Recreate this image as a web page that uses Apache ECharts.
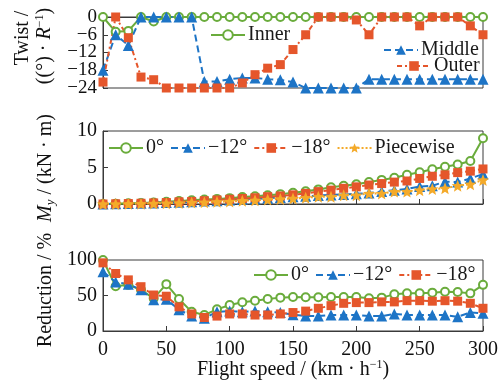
<!DOCTYPE html>
<html>
<head>
<meta charset="utf-8">
<script src="https://cdn.jsdelivr.net/npm/echarts@6/dist/echarts.min.js"></script>
<style>
  html, body { margin: 0; padding: 0; background: #fff; }
  #chart { width: 504px; height: 381px; }
</style>
</head>
<body>
<div id="chart"></div>
<script>
// Flight speed (km/h)
const speeds = [0, 10, 20, 30, 40, 50, 60, 70, 80, 90, 100, 110, 120, 130, 140, 150,
  160, 170, 180, 190, 200, 210, 220, 230, 240, 250, 260, 270, 280, 290, 300];

// Twist per blade section, (°)·R^-1
const twistInner = [0, -5, -4.7, 0, -1.5, 0, 0, 0, 0, 0, 0, 0, 0, 0, 0, 0,
  0, 0, 0, 0, 0, 0, 0, 0, 0, 0, 0, 0, 0, 0, 0];
const twistMiddle = [-18, -6, -9.6, 0, 0, 0, 0, 0, -21.8, -21.8, -21, -20.6, -20.6, -21, -21.2, -22,
  -24, -24, -24, -24, -24, -21, -21, -21, -21, -21, -21, -21, -21, -21, -21];
const twistOuter = [-22, 0, -7, -20.3, -21.2, -24, -24, -24, -24, -24, -24, -22.3, -19.5, -17.3, -16.1, -11,
  -6, 0, 0, 0, -1, -6, 0, 0, 0, -3, 0, 0, 0, -3, -6];

// Flapping moment My, kN·m
const moment0 = [0, 0.05, 0.1, 0.15, 0.2, 0.3, 0.4, 0.5, 0.6, 0.7, 0.8, 0.95, 1.05, 1.2, 1.35, 1.55,
  1.75, 2.0, 2.3, 2.5, 2.7, 3.0, 3.3, 3.6, 4.0, 4.35, 4.75, 5.1, 5.4, 5.9, 9.0];
const moment12 = [0, 0.03, 0.06, 0.1, 0.15, 0.2, 0.25, 0.3, 0.4, 0.45, 0.55, 0.65, 0.7, 0.8, 0.9, 1.0,
  1.05, 1.15, 1.25, 1.3, 1.4, 1.5, 1.7, 1.9, 2.05, 2.4, 2.5, 3.05, 3.0, 3.5, 4.1];
const moment18 = [0, 0.03, 0.06, 0.1, 0.15, 0.2, 0.3, 0.35, 0.45, 0.55, 0.65, 0.75, 0.85, 1.0, 1.1, 1.25,
  1.45, 1.7, 1.9, 2.15, 2.35, 2.6, 2.8, 3.0, 3.15, 3.5, 3.8, 4.0, 4.3, 4.5, 4.8];
const momentPiecewise = [0, 0, 0.02, 0.05, 0.08, 0.1, 0.15, 0.2, 0.25, 0.3, 0.35, 0.45, 0.5, 0.6, 0.7, 0.75,
  0.85, 1.0, 1.0, 1.2, 1.2, 1.45, 1.45, 1.7, 1.7, 1.9, 2.05, 2.15, 2.5, 2.7, 3.3];

// Reduction, %
const reduction0 = [100, 63, 65, 58, 46, 66, 45, 27, 22.5, 30.5, 36.6, 40.4, 42.7, 45, 47, 48,
  47.5, 47.5, 48, 48, 48, 46, 47, 51.6, 53, 53, 54, 55.4, 55, 53, 65];
const reduction12 = [83.5, 69, 66, 58, 44, 44.6, 30, 21, 18, 27, 28, 27, 28, 27, 26, 23,
  21, 21, 22.5, 22.5, 22.5, 21, 21, 24, 22.5, 22.5, 22.5, 22.5, 20, 26, 25];
const reduction18 = [96, 81, 72, 62.4, 50.7, 49, 34, 24, 19, 21, 24, 24, 22.5, 22.5, 24, 26,
  28, 32, 35.7, 39, 40, 40, 41, 41, 42.7, 42.7, 42, 42.7, 42, 39, 32];

// Tick values
const xTicks = [0, 50, 100, 150, 200, 250, 300];
const twistTicks = [0, -6, -12, -18, -24];

const GREEN = '#6aac3c';
const BLUE = '#1d74c6';
const ORANGE = '#e5562b';
const GOLD = '#f4aa2a';
const FONT = 'Liberation Serif';
const AXIS = '#3a3a3a';
const STAR = 'path://M0,-10 L2.6,-3.6 9.5,-3.1 4.2,1.4 5.9,8.1 0,4.4 -5.9,8.1 -4.2,1.4 -9.5,-3.1 -2.6,-3.6 Z';

const pairs = vals => speeds.map((s, i) => [s, vals[i]]);

function makeSeries(name, vals, idx, color, symbol, size, dash) {
  return {
    name: name,
    type: 'line',
    xAxisIndex: idx,
    yAxisIndex: idx,
    data: pairs(vals),
    symbol: symbol,
    symbolSize: size,
    showAllSymbol: true,
    lineStyle: { color: color, width: 2, type: dash },
    itemStyle: { color: color, borderColor: color, borderWidth: symbol === 'emptyCircle' ? 1.6 : 0 },
    emphasis: { disabled: true },
    animation: false
  };
}

const grids = [
  { left: 103, right: 21, top: 17, height: 71 },
  { left: 103, right: 21, top: 131, height: 73 },
  { left: 103, right: 21, top: 260, height: 71 }
].map(g => Object.assign(g, { show: true, borderColor: AXIS, borderWidth: 1, backgroundColor: 'transparent' }));

const xAxes = [0, 1, 2].map(i => ({
  type: 'value', gridIndex: i, min: 0, max: 300, interval: 50,
  axisLine: { show: true, lineStyle: { color: AXIS, width: 1 } },
  axisTick: { show: true, inside: true, length: 5, lineStyle: { color: AXIS } },
  splitLine: { show: false },
  axisLabel: {
    show: i === 2, margin: 9, fontFamily: FONT, fontSize: 20, color: '#111',
    formatter: v => xTicks.includes(v) ? String(v) : ''
  }
}));

// The twist axis labels are stacked tighter than the automatic layout allows,
// so that axis draws its labels as graphic text placed through the axis scale.
const yRanges = [[-24, 0, 6], [0, 10, 5], [0, 100, 50]];
const yAxes = yRanges.map((r, i) => ({
  type: 'value', gridIndex: i, min: r[0], max: r[1], interval: r[2],
  axisLine: { show: true, lineStyle: { color: AXIS, width: 1 } },
  axisTick: { show: true, inside: true, length: 5, lineStyle: { color: AXIS } },
  splitLine: { show: false },
  axisLabel: { show: i !== 0, margin: 6, fontFamily: FONT, fontSize: 20, color: '#111' }
}));

const legendBase = {
  orient: 'horizontal', padding: 0, itemWidth: 34, itemHeight: 12, itemGap: 6,
  selectedMode: false,
  textStyle: { fontFamily: FONT, fontSize: 20, color: '#1a1a1a', lineHeight: 20, padding: [0, 0, 0, -2] },
  formatter: n => n.split('|')[0]
};

const series = [
  makeSeries('Inner', twistInner, 0, GREEN, 'emptyCircle', 8, 'solid'),
  makeSeries('Middle', twistMiddle, 0, BLUE, 'triangle', 11, [7, 4]),
  makeSeries('Outer', twistOuter, 0, ORANGE, 'rect', 9, [5, 3, 2, 3]),

  makeSeries('0°|M', moment0, 1, GREEN, 'emptyCircle', 8, 'solid'),
  makeSeries('\u221212°|M', moment12, 1, BLUE, 'triangle', 11, [7, 4]),
  makeSeries('\u221218°|M', moment18, 1, ORANGE, 'rect', 9, [5, 3, 2, 3]),
  makeSeries('Piecewise', momentPiecewise, 1, GOLD, STAR, 12, [2, 2]),

  makeSeries('0°|R', reduction0, 2, GREEN, 'emptyCircle', 8, 'solid'),
  makeSeries('\u221212°|R', reduction12, 2, BLUE, 'triangle', 11, [7, 4]),
  makeSeries('\u221218°|R', reduction18, 2, ORANGE, 'rect', 9, [5, 3, 2, 3])
];

const legends = [
  Object.assign({}, legendBase, { data: ['Inner'], left: 210, top: 25 }),
  Object.assign({}, legendBase, { data: ['Middle'], left: 383, top: 40 }),
  Object.assign({}, legendBase, { data: ['Outer'], left: 396, top: 56 }),
  Object.assign({}, legendBase, { data: ['0°|M', '\u221212°|M', '\u221218°|M', 'Piecewise'], left: 108, top: 138 }),
  Object.assign({}, legendBase, { data: ['0°|R', '\u221212°|R', '\u221218°|R'], left: 253, top: 265 })
];

const titleFont = { fontFamily: FONT, fontSize: 20, fill: '#111' };
const richBase = {
  n: { fontFamily: FONT, fontSize: 20, color: '#111' },
  i: { fontFamily: FONT, fontSize: 20, fontStyle: 'italic', color: '#111' },
  sub: { fontFamily: FONT, fontSize: 13, fontStyle: 'italic', color: '#111', padding: [9, 0, 0, 0] },
  sup: { fontFamily: FONT, fontSize: 12, color: '#111', padding: [0, 0, 10, 0] }
};

function vText(x, y, text) {
  return {
    type: 'text', x: x, y: y, rotation: Math.PI / 2,
    style: Object.assign({ text: text, align: 'center', verticalAlign: 'middle', rich: richBase }, titleFont)
  };
}

const chart = echarts.init(document.getElementById('chart'), null, { renderer: 'canvas' });
chart.setOption({
  animation: false,
  backgroundColor: '#fff',
  grid: grids,
  xAxis: xAxes,
  yAxis: yAxes,
  legend: legends,
  series: series
});

// twist tick labels, positioned by the twist axis
const axisLeft = chart.convertToPixel({ xAxisIndex: 0 }, 0);
const twistLabels = twistTicks.map(v => ({
  type: 'text',
  x: axisLeft - 6,
  y: chart.convertToPixel({ yAxisIndex: 0 }, v),
  style: {
    text: String(v).replace('-', '\u2212'),
    align: 'right', verticalAlign: 'middle',
    fontFamily: FONT, fontSize: 19, fill: '#111'
  }
}));

chart.setOption({
  graphic: [
    vText(23, 38, '{n|Twist /}'),
    vText(45, 46, '{n|((°) · }{i|R}{sup|\u22121}{n|)}'),
    vText(46, 168, '{i|M}{sub|y}{n| / (kN · m)}'),
    vText(46, 290, '{n|Reduction / %}'),
    {
      type: 'text', x: 293, y: 370,
      style: Object.assign({ text: '{n|Flight speed / (km · h}{sup|\u22121}{n|)}', align: 'center', verticalAlign: 'middle', rich: richBase }, titleFont)
    }
  ].concat(twistLabels)
});
</script>
</body>
</html>
